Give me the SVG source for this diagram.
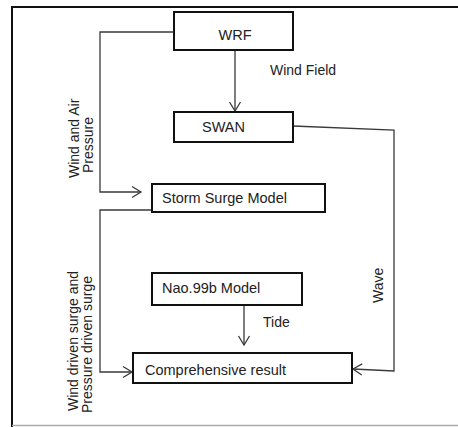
<svg xmlns="http://www.w3.org/2000/svg" width="458" height="427" viewBox="0 0 458 427">
<style>
.box{fill:#fff;stroke:#111;stroke-width:2}
.con{fill:none;stroke:#3a3a3a;stroke-width:1.3}
text{font-family:"Liberation Sans",Arial,sans-serif;fill:#222;font-size:14.5px}
.lbl{font-size:14px}
</style>
<defs>
<marker id="arr" markerUnits="userSpaceOnUse" markerWidth="14" markerHeight="14" viewBox="-11 -7 13 14" refX="0" refY="0" orient="auto">
<path d="M-9,-5.5 L0,0 L-9,5.5" fill="none" stroke="#3a3a3a" stroke-width="1.3"/>
</marker>
</defs>
<rect width="458" height="427" fill="#fff"/>
<g id="frame">
<line x1="11" y1="7" x2="458" y2="7" stroke="#111" stroke-width="2"/>
<line x1="12" y1="6" x2="12" y2="427" stroke="#111" stroke-width="2"/>
<line x1="12" y1="425.5" x2="458" y2="425.5" stroke="#aaa" stroke-width="1.5"/>
</g>
<g id="connectors">
<polyline class="con" points="174,32 100,32 100,192 141,192" marker-end="url(#arr)"/>
<line class="con" x1="235" y1="50" x2="235" y2="111" marker-end="url(#arr)"/>
<polyline class="con" points="293,126 394,130 394,371 353,369" marker-end="url(#arr)"/>
<polyline class="con" points="152,210 100,210 100,372 132,372" marker-end="url(#arr)"/>
<line class="con" x1="244" y1="305" x2="244" y2="345" marker-end="url(#arr)"/>
<text class="lbl" x="270" y="75">Wind Field</text>
<text class="lbl" x="263" y="327">Tide</text>
<text class="lbl" transform="translate(79,178) rotate(-90)">Wind and Air</text>
<text class="lbl" transform="translate(93,173) rotate(-90)">Pressure</text>
<text class="lbl" transform="translate(78,411) rotate(-90)">Wind driven surge and</text>
<text class="lbl" transform="translate(92,413) rotate(-90)">Pressure driven surge</text>
<text class="lbl" transform="translate(383,303) rotate(-90)">Wave</text>
</g>
<g id="wrf">
<rect class="box" x="174" y="12" width="119" height="38"/>
<text x="235" y="40" text-anchor="middle">WRF</text>
</g>
<g id="swan">
<rect class="box" x="174" y="112" width="119" height="30"/>
<text x="202" y="132">SWAN</text>
</g>
<g id="storm">
<rect class="box" x="152" y="184" width="173" height="28"/>
<text x="162" y="203">Storm Surge Model</text>
</g>
<g id="nao">
<rect class="box" x="152" y="273" width="150" height="32"/>
<text x="162" y="293">Nao.99b Model</text>
</g>
<g id="result">
<rect class="box" x="133" y="353" width="219" height="30"/>
<text x="145" y="375">Comprehensive result</text>
</g>
</svg>
